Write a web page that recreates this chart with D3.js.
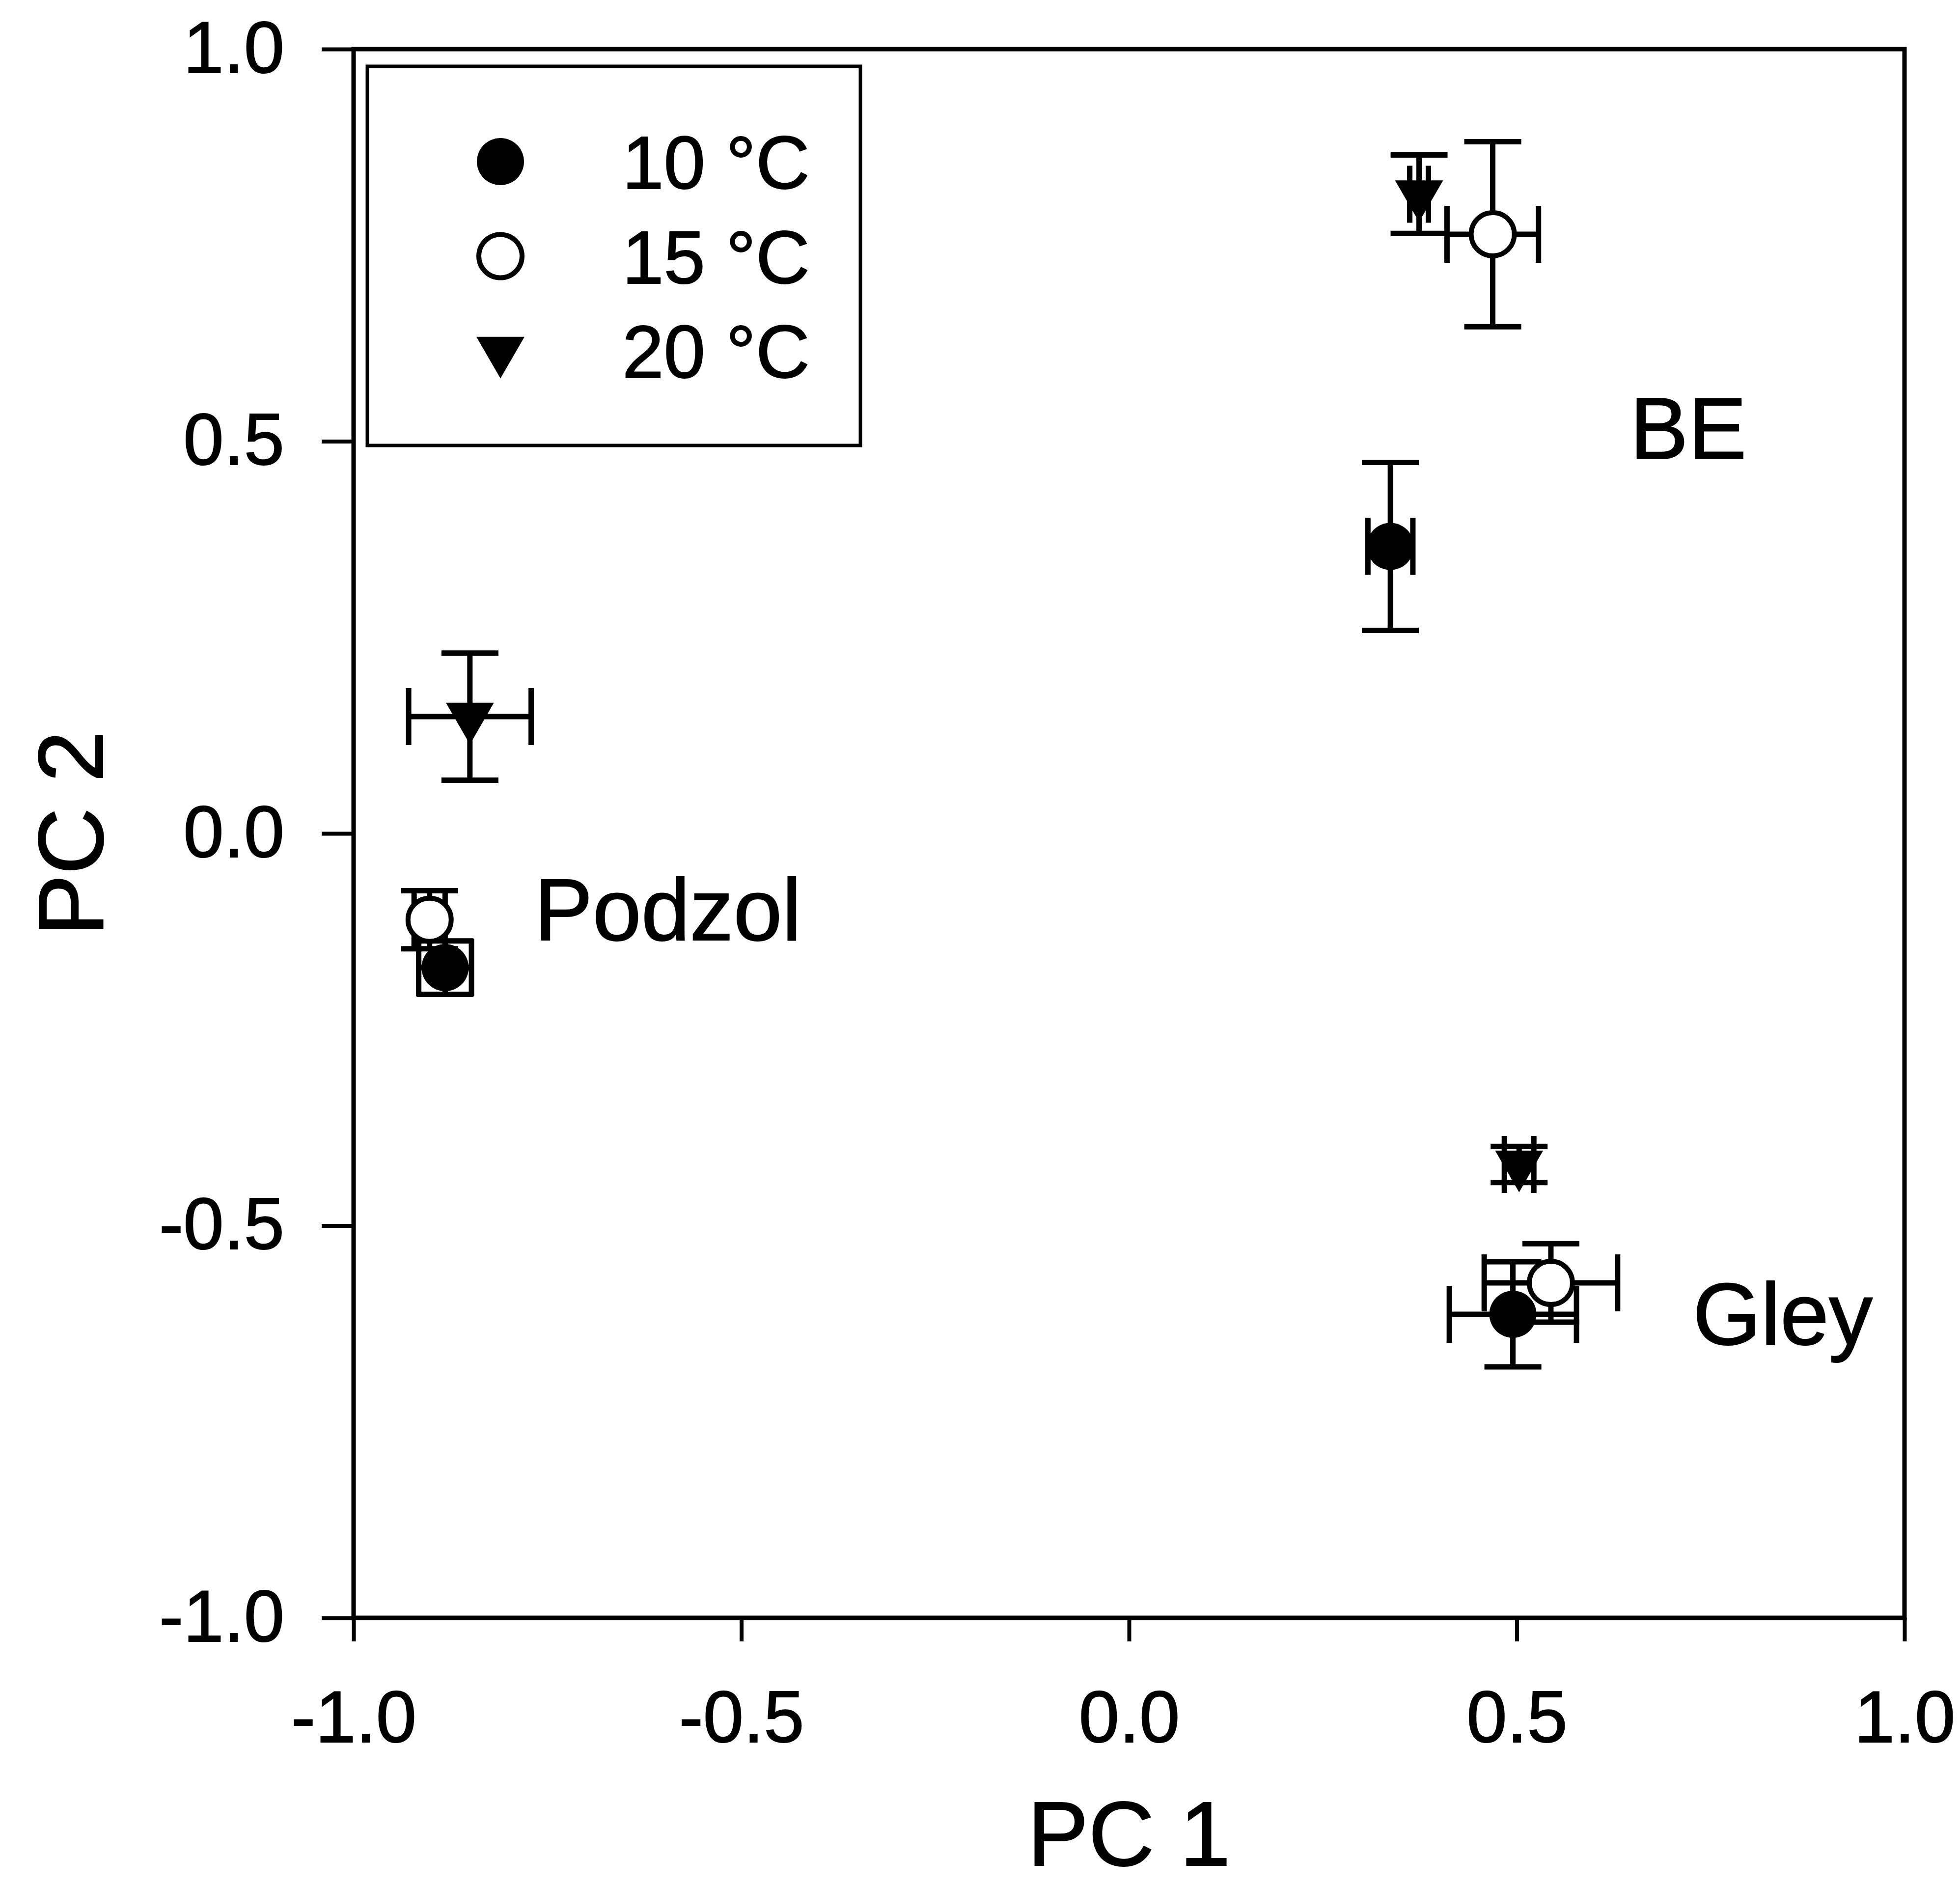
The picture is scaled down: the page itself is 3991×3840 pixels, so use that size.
<!doctype html>
<html>
<head>
    <script src="https://d3js.org/d3.v7.min.js"></script>
    <style>
        body { margin: 0; background: #fff; }
        text { font-family: "Liberation Sans", Arial, Helvetica, sans-serif; fill: #000; stroke: #000; stroke-width: 2px; }
    </style>
</head>
<body>

    <svg width="3991" height="3840"></svg>

    <script>

        // soil groups and incubation temperatures
        var soils = ["BE", "Podzol", "Gley"];
        var temps = ["10 °C", "15 °C", "20 °C"];

        // PCA scores, rows = temperature (10, 15, 20 °C), columns = soil (BE, Podzol, Gley)
        var pc1    = [[0.337, -0.882, 0.495], [0.469, -0.902, 0.544], [0.374, -0.850, 0.503]];
        var pc1Err = [[0.029,  0.034, 0.082], [0.059,  0.020, 0.086], [0.012,  0.079, 0.019]];
        var pc2    = [[0.366, -0.171, -0.613], [0.764, -0.110, -0.573], [0.815, 0.149, -0.422]];
        var pc2Err = [[0.107,  0.034, 0.067], [0.118,  0.037, 0.050], [0.050,  0.081, 0.023]];

        var xTicks = [-1.0, -0.5, 0.0, 0.5, 1.0];
        var yTicks = [-1.0, -0.5, 0.0, 0.5, 1.0];

        var svg = d3.select("svg");

        var x = d3.scaleLinear().domain([-1, 1]).range([720, 3878]);
        var y = d3.scaleLinear().domain([-1, 1]).range([3294, 100]);

        var fmt = function(d) { return d.toFixed(1); };

        // axes
        var xAxis = svg.append("g")
            .attr("transform", "translate(0," + y(-1) + ")")
            .call(d3.axisBottom(x).tickValues(xTicks).tickSize(48).tickPadding(100).tickFormat(fmt));

        var yAxis = svg.append("g")
            .attr("transform", "translate(" + x(-1) + ",0)")
            .call(d3.axisLeft(y).tickValues(yTicks).tickSize(65).tickPadding(76).tickFormat(fmt));

        [xAxis, yAxis].forEach(function(a) {
            a.select(".domain").remove();
            a.selectAll("line").attr("stroke", "#000").attr("stroke-width", 8);
            a.selectAll("text").attr("font-size", 148).attr("font-family", null).attr("fill", null);
        });

        // frame
        svg.append("rect")
            .attr("x", x(-1))
            .attr("y", y(1))
            .attr("width", x(1) - x(-1))
            .attr("height", y(-1) - y(1))
            .attr("fill", "none")
            .attr("stroke", "#000")
            .attr("stroke-width", 9);

        // axis titles
        svg.append("text")
            .attr("x", (x(-1) + x(1)) / 2)
            .attr("y", 3798)
            .attr("text-anchor", "middle")
            .attr("font-size", 186)
            .text("PC 1");

        svg.append("text")
            .attr("transform", "translate(209," + (y(-1) + y(1)) / 2 + ") rotate(-90)")
            .attr("text-anchor", "middle")
            .attr("font-size", 188)
            .text("PC 2");

        // one row per temperature x soil
        var points = [];
        temps.forEach(function(t, i) {
            soils.forEach(function(s, j) {
                points.push({ temp: i, soil: s, x: pc1[i][j], xe: pc1Err[i][j], y: pc2[i][j], ye: pc2Err[i][j] });
            });
        });

        var cap = 58;
        var bars = svg.append("g").attr("stroke", "#000").attr("stroke-width", 11).attr("fill", "none");

        points.forEach(function(p) {
            var cx = x(p.x), cy = y(p.y);
            var x0 = x(p.x - p.xe), x1 = x(p.x + p.xe);
            var y0 = y(p.y + p.ye), y1 = y(p.y - p.ye);
            var path = "M" + x0 + "," + cy + "H" + x1 +
                       "M" + x0 + "," + (cy - cap) + "V" + (cy + cap) +
                       "M" + x1 + "," + (cy - cap) + "V" + (cy + cap) +
                       "M" + cx + "," + y0 + "V" + y1 +
                       "M" + (cx - cap) + "," + y0 + "H" + (cx + cap) +
                       "M" + (cx - cap) + "," + y1 + "H" + (cx + cap);
            bars.append("path").attr("d", path);
        });

        var filled = d3.symbol().type(d3.symbolCircle).size(Math.PI * 48 * 48);
        var open = d3.symbol().type(d3.symbolCircle).size(Math.PI * 44 * 44);
        var triangle = d3.symbol().type(d3.symbolTriangle).size(4150);

        function drawSymbol(sel, t) {
            if (t === 0) {
                sel.attr("d", filled()).attr("fill", "#000");
            } else if (t === 1) {
                sel.attr("d", open()).attr("fill", "#fff").attr("stroke", "#000").attr("stroke-width", 10);
            } else {
                sel.attr("d", triangle()).attr("fill", "#000");
            }
        }

        svg.append("g").selectAll("path")
            .data(points)
            .enter().append("path")
            .attr("transform", function(d) {
                return "translate(" + x(d.x) + "," + y(d.y) + ")" + (d.temp === 2 ? " rotate(180)" : "");
            })
            .each(function(d) { drawSymbol(d3.select(this), d.temp); });

        // soil labels
        var soilLabels = [
            { text: "BE", px: 0.646, py: 0.478 },
            { text: "Podzol", px: -0.767, py: -0.136 },
            { text: "Gley", px: 0.727, py: -0.651 }
        ];
        svg.append("g").selectAll("text")
            .data(soilLabels)
            .enter().append("text")
            .attr("x", function(d) { return x(d.px); })
            .attr("y", function(d) { return y(d.py); })
            .attr("font-size", 178)
            .text(function(d) { return d.text; });

        // legend
        var legend = svg.append("g");
        legend.append("rect")
            .attr("x", 748).attr("y", 135)
            .attr("width", 1004).attr("height", 772)
            .attr("fill", "#fff")
            .attr("stroke", "#000")
            .attr("stroke-width", 7);

        temps.forEach(function(t, i) {
            var cy = 329 + i * 192.5;
            legend.append("path")
                .attr("transform", "translate(1019," + cy + ")" + (i === 2 ? " rotate(180)" : ""))
                .call(drawSymbol, i);
            legend.append("text")
                .attr("x", 1267)
                .attr("y", cy + 55)
                .attr("font-size", 152)
                .text(t);
        });

    </script>
</body>
</html>
